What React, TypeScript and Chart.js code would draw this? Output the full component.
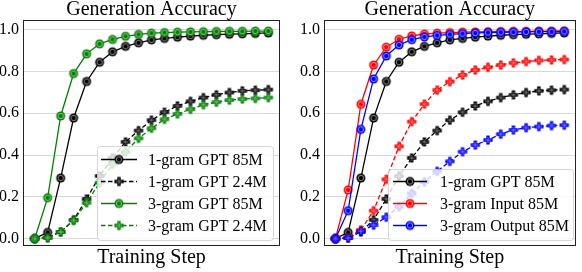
import React, { useEffect, useRef } from "react";
import { Chart, registerables } from "chart.js";
Chart.register(...registerables);

const FONT = "'Liberation Serif', 'Times New Roman', Times, serif";

const steps = [0, 1, 2, 3, 4, 5, 6, 7, 8, 9, 10, 11, 12, 13, 14, 15, 16, 17, 18];

const gram1_85M = [0, 0.03, 0.29, 0.577, 0.752, 0.844, 0.894, 0.92, 0.937, 0.951, 0.958, 0.964, 0.969, 0.973, 0.976, 0.978, 0.98, 0.982, 0.984];
const gram1_2_4M = [0, 0.005, 0.032, 0.09, 0.19, 0.3, 0.386, 0.463, 0.517, 0.567, 0.605, 0.635, 0.657, 0.675, 0.688, 0.699, 0.707, 0.71, 0.713];
const gram3_85M = [0, 0.196, 0.587, 0.79, 0.884, 0.932, 0.953, 0.968, 0.977, 0.983, 0.986, 0.988, 0.989, 0.99, 0.991, 0.992, 0.992, 0.993, 0.993];
const gram3_2_4M = [0, 0.005, 0.032, 0.087, 0.172, 0.268, 0.356, 0.415, 0.48, 0.528, 0.571, 0.597, 0.619, 0.641, 0.653, 0.663, 0.668, 0.671, 0.675];

const input3_85M = [0, 0.233, 0.643, 0.831, 0.916, 0.954, 0.97, 0.979, 0.983, 0.986, 0.988, 0.989, 0.99, 0.991, 0.992, 0.992, 0.993, 0.993, 0.994];
const input3_2_4M = [0, 0.005, 0.042, 0.134, 0.284, 0.442, 0.56, 0.644, 0.711, 0.751, 0.783, 0.807, 0.82, 0.831, 0.841, 0.847, 0.853, 0.855, 0.857];
const output3_85M = [0, 0.134, 0.523, 0.764, 0.874, 0.927, 0.952, 0.965, 0.972, 0.977, 0.981, 0.984, 0.986, 0.987, 0.988, 0.989, 0.99, 0.99, 0.991];
const output3_2_4M = [0, 0.003, 0.036, 0.065, 0.103, 0.153, 0.217, 0.272, 0.322, 0.37, 0.416, 0.448, 0.472, 0.5, 0.52, 0.531, 0.536, 0.541, 0.543];

const titleText = "Generation Accuracy";
const xLabel = "Training Step";
const yTicks = [0, 0.2, 0.4, 0.6, 0.8, 1.0];

const BLACK = "#000000";
const GREEN = "#008000";
const RED = "#ff0000";
const BLUE = "#0000ff";

type Series = { label?: string; data: number[]; color: string; dashed: boolean };

const leftSeries: Series[] = [
  { label: "1-gram GPT 85M", data: gram1_85M, color: BLACK, dashed: false },
  { label: "1-gram GPT 2.4M", data: gram1_2_4M, color: BLACK, dashed: true },
  { label: "3-gram GPT 85M", data: gram3_85M, color: GREEN, dashed: false },
  { label: "3-gram GPT 2.4M", data: gram3_2_4M, color: GREEN, dashed: true },
];

const rightSeries: Series[] = [
  { label: "1-gram GPT 85M", data: gram1_85M, color: BLACK, dashed: false },
  { data: gram1_2_4M, color: BLACK, dashed: true },
  { label: "3-gram Input 85M", data: input3_85M, color: RED, dashed: false },
  { data: input3_2_4M, color: RED, dashed: true },
  { label: "3-gram Output 85M", data: output3_85M, color: BLUE, dashed: false },
  { data: output3_2_4M, color: BLUE, dashed: true },
];

function makeMarker(dashed: boolean, color: string) {
  const c = document.createElement("canvas");
  c.width = 12;
  c.height = 12;
  const g = c.getContext("2d")!;
  g.translate(6, 6);
  if (!dashed) {
    g.beginPath();
    g.arc(0, 0, 4.5, 0, Math.PI * 2);
    g.fillStyle = color;
    g.fill();
    g.beginPath();
    g.arc(0, 0, 2.7, 0, Math.PI * 2);
    g.strokeStyle = "rgba(255,255,255,0.6)";
    g.lineWidth = 0.9;
    g.stroke();
  } else {
    const a = 4.6;
    const t = 1.7;
    g.beginPath();
    g.moveTo(-t, -a);
    g.lineTo(t, -a);
    g.lineTo(t, -t);
    g.lineTo(a, -t);
    g.lineTo(a, t);
    g.lineTo(t, t);
    g.lineTo(t, a);
    g.lineTo(-t, a);
    g.lineTo(-t, t);
    g.lineTo(-a, t);
    g.lineTo(-a, -t);
    g.lineTo(-t, -t);
    g.closePath();
    g.fillStyle = color;
    g.fill();
    g.beginPath();
    g.moveTo(-3, 0);
    g.lineTo(3, 0);
    g.moveTo(0, -3);
    g.lineTo(0, 3);
    g.strokeStyle = "rgba(255,255,255,0.55)";
    g.lineWidth = 0.8;
    g.stroke();
  }
  return c;
}

type LegendGeom = { x: number; y: number; w: number; h: number; rowY: number[]; lineX0: number; lineX1: number; textX: number };

type PanelProps = {
  series: Series[];
  width: number;
  height: number;
  areaLeft: number;
  areaRight: number;
  legend: LegendGeom;
};

function Panel({ series, width, height, areaLeft, areaRight, legend }: PanelProps) {
  const ref = useRef<HTMLCanvasElement | null>(null);
  useEffect(() => {
    const canvas = ref.current!;
    const markers = series.map((s) => makeMarker(s.dashed, s.color));
    const n = series.length;
    const datasets = series.map((s, i) => ({
      label: s.label || "",
      data: steps.map((x, k) => ({ x, y: s.data[k] })),
      borderColor: s.color,
      backgroundColor: s.color,
      borderWidth: 1.3,
      borderDash: s.dashed ? [4.5, 2.5] : [],
      pointStyle: markers[i],
      pointRadius: 5,
      pointHoverRadius: 5,
      tension: 0,
      fill: false,
      order: n - i,
    }));

    const framePlugin = {
      id: "frameLegend",
      afterDraw(chart: any) {
        const ctx = chart.ctx as CanvasRenderingContext2D;
        const a = chart.chartArea;
        ctx.save();
        ctx.strokeStyle = "#222222";
        ctx.lineWidth = 1;
        ctx.strokeRect(Math.round(a.left) + 0.5, Math.round(a.top) + 0.5, Math.round(a.right - a.left) - 1, Math.round(a.bottom - a.top) - 1);

        const L = legend;
        ctx.beginPath();
        (ctx as any).roundRect(L.x + 0.5, L.y + 0.5, L.w, L.h, 3);
        ctx.fillStyle = "rgba(255,255,255,0.8)";
        ctx.fill();
        ctx.strokeStyle = "rgba(204,204,204,0.8)";
        ctx.lineWidth = 1;
        ctx.stroke();
        const items = series.map((s, i) => ({ s, m: markers[i] })).filter((it) => it.s.label);
        items.forEach((it, r) => {
          const y = L.rowY[r];
          ctx.beginPath();
          ctx.setLineDash(it.s.dashed ? [4.5, 2.5] : []);
          ctx.strokeStyle = it.s.color;
          ctx.lineWidth = 1.3;
          ctx.moveTo(L.lineX0, y);
          ctx.lineTo(L.lineX1, y);
          ctx.stroke();
          ctx.setLineDash([]);
          const cx = (L.lineX0 + L.lineX1) / 2;
          ctx.drawImage(it.m, cx - 6, y - 6);
          ctx.fillStyle = "#000";
          ctx.font = `16px ${FONT}`;
          ctx.textAlign = "left";
          ctx.textBaseline = "middle";
          ctx.fillText(it.s.label!, L.textX, y + 1);
        });
        ctx.restore();
      },
    };

    const chart = new Chart(canvas, {
      type: "line",
      data: { datasets: datasets as any },
      plugins: [framePlugin],
      options: {
        responsive: false,
        animation: false,
        devicePixelRatio: 1,
        events: [],
        layout: { padding: { left: 0, right: width - areaRight, top: 0, bottom: 0 } },
        plugins: {
          legend: { display: false },
          tooltip: { enabled: false },
          title: {
            display: true,
            fullSize: false,
            text: titleText,
            color: "#000",
            font: { family: FONT, size: 20, weight: "normal", lineHeight: 0.9 },
            padding: { top: 1, bottom: 1 },
          },
        },
        scales: {
          x: {
            type: "linear",
            min: -0.9,
            max: 18.9,
            grid: { display: false, drawTicks: false },
            border: { display: false },
            ticks: { display: false },
            title: {
              display: true,
              text: xLabel,
              color: "#000",
              font: { family: FONT, size: 20, weight: "normal", lineHeight: 1 },
              padding: { top: 0, bottom: 4.5 },
            },
            afterFit: (s: any) => {
              s.height = 26;
            },
          },
          y: {
            type: "linear",
            min: -0.035,
            max: 1.046,
            grid: { color: "#d9d9d9", lineWidth: 1, drawTicks: false },
            border: { display: false },
            ticks: {
              color: "#000",
              font: { family: FONT, size: 16, lineHeight: 1 },
              padding: 4,
              callback: (v: any) => Number(v).toFixed(1),
            },
            afterBuildTicks: (s: any) => {
              s.ticks = yTicks.map((v) => ({ value: v }));
            },
            afterFit: (s: any) => {
              s.width = areaLeft;
            },
          },
        },
      } as any,
    });
    return () => chart.destroy();
  }, []);
  return <canvas ref={ref} width={width} height={height} style={{ display: "block", width, height }} />;
}

export default function App() {
  return (
    <div style={{ position: "absolute", left: 0, top: 0, width: 582, height: 272, display: "flex", background: "#fff" }}>
      <Panel
        series={leftSeries}
        width={291}
        height={272}
        areaLeft={23}
        areaRight={280}
        legend={{ x: 97, y: 146, w: 176, h: 94, rowY: [159.5, 181.5, 203.5, 225.5], lineX0: 101, lineX1: 137, textX: 148 }}
      />
      <Panel
        series={rightSeries}
        width={291}
        height={272}
        areaLeft={33}
        areaRight={289}
        legend={{ x: 97, y: 169, w: 185, h: 71, rowY: [181.5, 203.5, 225.5], lineX0: 102, lineX1: 136, textX: 149 }}
      />
    </div>
  );
}
